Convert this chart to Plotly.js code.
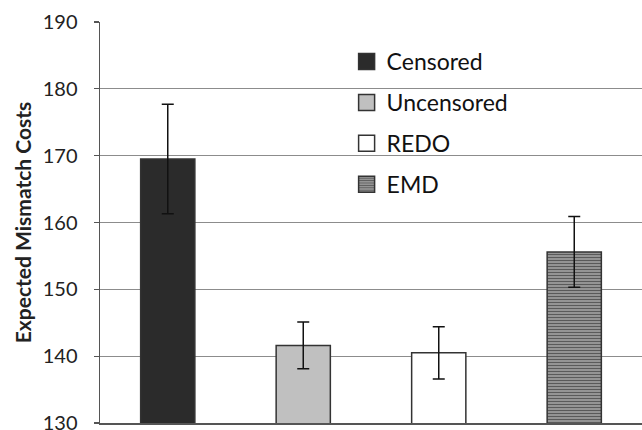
<!DOCTYPE html>
<html><head><meta charset="utf-8">
<script src="https://cdn.plot.ly/plotly-3.0.1.min.js"></script>
<style>html,body{margin:0;padding:0;background:#fff}#chart{width:642px;height:430px}</style>
</head><body><div id="chart"></div>
<script>
const categories = ["Censored", "Uncensored", "REDO", "EMD"];
const values = [169.5, 141.6, 140.5, 155.6];
const errors = [8.2, 3.5, 3.9, 5.3];
const yTicks = [130, 140, 150, 160, 170, 180, 190];

const fills = ["#2b2b2b", "#c0c0c0", "#ffffff", "#8a8a8a"];
const traces = categories.map((c, i) => {
  const marker = {color: fills[i], line: {color: "#333", width: 1.5}};
  if (c === "EMD") {
    marker.pattern = {shape: "-", fgcolor: "#5a5a5a", bgcolor: "#a0a0a0", size: 3, solidity: 0.45, fillmode: "replace"};
  }
  return {
    type: "bar", name: c, legendgroup: c,
    x: [c], y: [values[i]], width: 0.4,
    marker: marker,
    error_y: {type: "data", array: [errors[i]], visible: true, color: "#111", thickness: 1.5, width: 6}
  };
});

const layout = {
  width: 642, height: 430,
  margin: {l: 100, r: 0, t: 22, b: 7},
  paper_bgcolor: "#fff", plot_bgcolor: "#fff",
  barmode: "overlay",
  font: {family: "Lato, 'Open Sans', sans-serif", color: "#222"},
  showlegend: true,
  legend: {x: 0.455, y: 0.955, xanchor: "left", yanchor: "top", font: {size: 23, color: "#111"},
           tracegroupgap: 8, bgcolor: "rgba(0,0,0,0)"},
  xaxis: {type: "category", showticklabels: false, ticks: "", showgrid: false,
          showline: true, linecolor: "#555", linewidth: 1.5, zeroline: false},
  yaxis: {range: [130, 190], tickvals: yTicks, ticktext: yTicks.map(String),
          showgrid: true, gridcolor: "#8c8c8c", gridwidth: 1.2,
          showline: true, linecolor: "#555", linewidth: 1.5,
          ticks: "outside", ticklen: 5, tickcolor: "#555", tickwidth: 1.2,
          ticklabelstandoff: 12, ticklabeloverflow: "allow",
          tickfont: {size: 20, color: "#222"}, zeroline: false,
          title: {text: "<b>Expected Mismatch Costs</b>", font: {size: 21, color: "#222"}, standoff: 5}}
};

Plotly.newPlot("chart", traces, layout, {displayModeBar: false, staticPlot: true}).then(() => {
  document.querySelectorAll("#chart .legend .legendpoints path").forEach(p => {
    p.setAttribute("d", "M8,8H-8V-8H8Z");
  });
});
</script></body></html>
